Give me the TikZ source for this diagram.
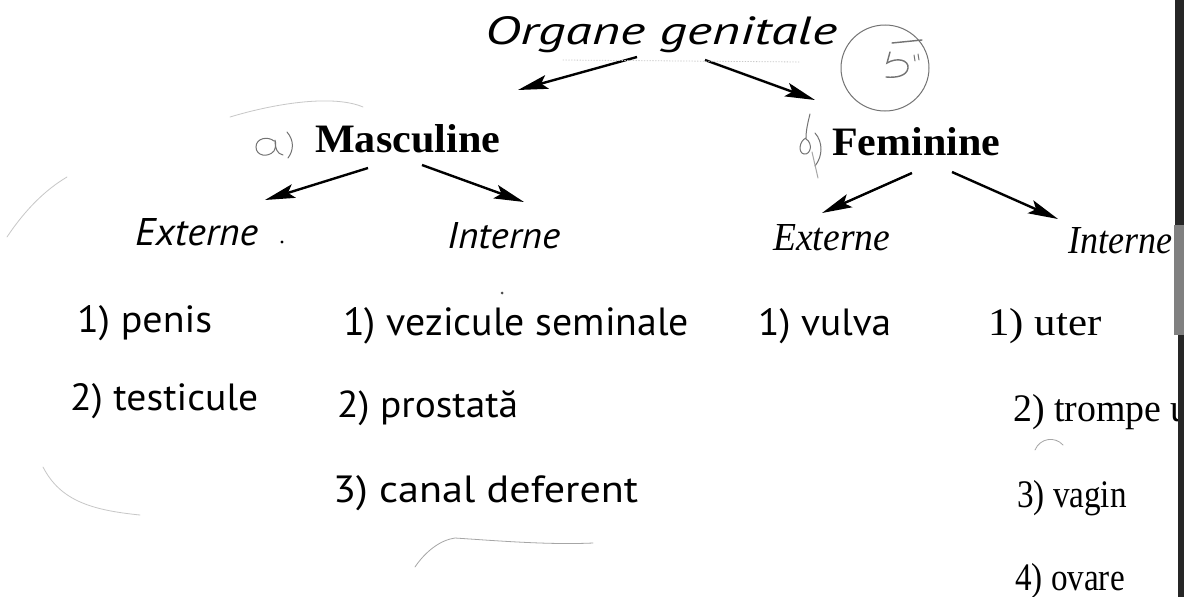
\documentclass[tikz,border=0pt]{standalone}
\usepackage{fontspec}
\usetikzlibrary{arrows.meta}
\newfontfamily\hsans{PT Sans}
\newfontfamily\hser{Liberation Serif}
\newcommand{\fitwh}[3]{\resizebox{#1pt}{#2pt}{#3}}
\begin{document}
\begin{tikzpicture}[x=1pt,y=-1pt,
  txt/.style={inner sep=0pt, anchor=base west},
  ttl/.style={txt, font=\hsans\itshape\fontsize{36}{40}\selectfont},
  grp/.style={txt, font=\hser\bfseries\fontsize{40}{44}\selectfont},
  subl/.style={txt, font=\hsans\itshape\fontsize{36}{40}\selectfont},
  subr/.style={txt, font=\hser\itshape\fontsize{36}{40}\selectfont},
  iteml/.style={txt, font=\hsans\fontsize{34}{38}\selectfont},
  itemr/.style={txt, font=\hser\fontsize{39}{42}\selectfont},
  arr/.style={line width=2.4pt, -{Stealth[length=30pt,width=14pt,inset=6pt]}},
  pen/.style={black!55, line width=1pt, line cap=round},
  faint/.style={black!22, line width=0.8pt, line cap=round}]
\fill[white] (0,0) rectangle (1184,597);
\useasboundingbox (0,0) rectangle (1184,597);

% title and groups
\node[ttl] (title) at (485,45) {\fitwh{352}{28}{Organe genitale}};
\node[grp] (masc) at (315,152) {\fitwh{185}{28}{Masculine}};
\node[grp] (fem) at (832,155) {\fitwh{168}{28}{Feminine}};

% subgroups
\node[subl] (mext) at (135,245) {\fitwh{123}{27}{Externe}};
\node[subl] (mint) at (447,248) {\fitwh{113}{26}{Interne}};
\node[subr] (fext) at (773,250) {\fitwh{117}{26}{Externe}};
\node[subr] (fint) at (1068,253) {\fitwh{104}{26}{Interne}};
\fill (282,242) circle (1.6pt);

% items
\node[iteml] (m1) at (77,332) {\fitwh{135}{27}{1) penis}};
\node[iteml] (m2) at (70,410) {\fitwh{188}{27}{2) testicule}};
\node[iteml] (i1) at (343,335) {\fitwh{346}{28}{1) vezicule seminale}};
\node[iteml] (i2) at (337,417) {\fitwh{181}{27}{2) prostată}};
\node[iteml] (i3) at (333,502) {\fitwh{305}{27}{3) canal deferent}};
\node[iteml] (e1) at (758,335) {\fitwh{133}{27}{1) vulva}};
\node[itemr] (f1) at (988,335) {\scalebox{1.1}[1]{1) uter}};
\node[itemr] (f2) at (1013,421) {\scalebox{0.97}[1]{2) trompe u}};
\node[itemr] (f3) at (1017,507) {\scalebox{0.85}[1]{3) vagin}};
\node[itemr] (f4) at (1015,590) {\scalebox{0.85}[1]{4) ovare}};

% arrow end points
\coordinate (t1) at (637,57);  \coordinate (t1e) at (518,90);
\coordinate (t2) at (705,60);  \coordinate (t2e) at (815,100);
\coordinate (a1) at (368,168); \coordinate (a1e) at (265,200);
\coordinate (a2) at (422,165); \coordinate (a2e) at (524,202);
\coordinate (b1) at (912,173); \coordinate (b1e) at (822,213);
\coordinate (b2) at (952,172); \coordinate (b2e) at (1058,219);
\draw[arr] (t1) -- (t1e);
\draw[arr] (t2) -- (t2e);
\draw[arr] (a1) -- (a1e);
\draw[arr] (a2) -- (a2e);
\draw[arr] (b1) -- (b1e);
\draw[arr] (b2) -- (b2e);

% handwritten marks: a)
\draw[pen] (274,141) .. controls (268,136) and (256,138) .. (256,147)
  .. controls (256,156) and (268,158) .. (274,151) .. controls (276,147) and (276,143) .. (275,140)
  .. controls (275,148) and (277,154) .. (283,155);
\draw[pen] (287,132) .. controls (294,140) and (294,150) .. (288,158);
% b)
\draw[pen] (810,114) .. controls (808,122) and (806,130) .. (806,138)
  .. controls (799,141) and (798,153) .. (804,154) .. controls (811,155) and (813,143) .. (806,139);
\draw[pen] (815,133) .. controls (823,142) and (823,156) .. (815,166);
\draw[pen, black!35] (812,152) -- (818,178);
% circled 5
\draw[pen] (885,68) ellipse [x radius=44, y radius=43];
\draw[pen, line width=1.4pt] (892,43) -- (922,40);
\draw[pen, line width=1.4pt] (890,52) -- (887,63) .. controls (897,57) and (909,60) .. (908,68) .. controls (907,76) and (896,78) .. (886,77);
\draw[pen] (914,55) -- (915,61) (918,54) -- (919,60);

% faint pencil traces
\draw[faint] (230,117) .. controls (280,102) and (335,95) .. (363,107);
\draw[faint, dotted] (563,60) -- (800,62);
\draw[faint, black!35] (415,567) .. controls (425,552) and (440,540) .. (455,538) .. controls (500,541) and (550,545) .. (593,543);
\draw[faint, black!35] (1035,450) .. controls (1040,438) and (1055,436) .. (1063,445);
\draw[faint] (43,467) .. controls (60,500) and (90,510) .. (140,515);
\draw[faint] (7,237) .. controls (25,210) and (45,190) .. (67,177);
\fill[black!70] (502,293) circle (1.5pt);

% dark scan edge
\fill[black!85] (1175,0) rectangle (1184,225);
\fill[black!50] (1174,225) rectangle (1184,335);
\fill[black!85] (1178,335) rectangle (1184,597);
\end{tikzpicture}
\end{document}
